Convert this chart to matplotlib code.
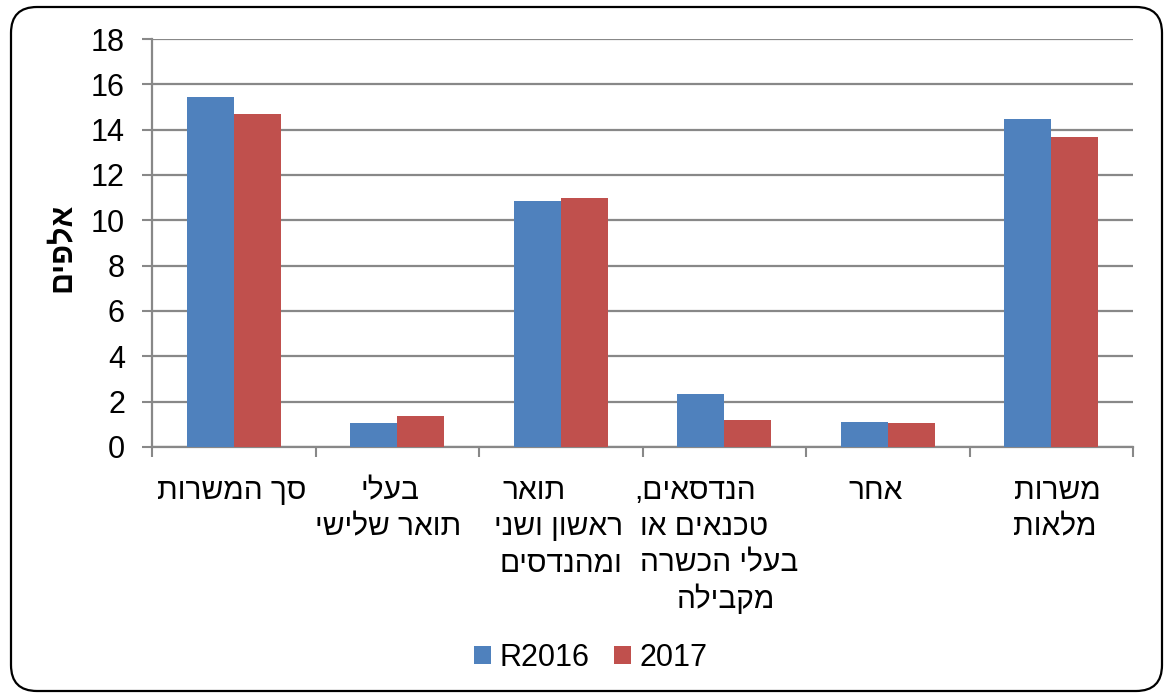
import matplotlib
matplotlib.use("Agg")
import matplotlib.pyplot as plt
import numpy as np
from matplotlib.patches import FancyBboxPatch, Patch
from matplotlib.transforms import IdentityTransform

plt.rcParams['font.family'] = ['Liberation Sans', 'DejaVu Sans']

# ---- data ----
categories = [
    ["סך המשרות"],
    ["בעלי", "תואר שלישי"],
    ["תואר", "ראשון ושני", "ומהנדסים"],
    ["הנדסאים,", "טכנאים או", "בעלי הכשרה", "מקבילה"],
    ["אחר"],
    ["משרות", "מלאות"],
]
series_names = ["R2016", "2017"]
values_2016 = [15.45, 1.07, 10.87, 2.32, 1.10, 14.45]
values_2017 = [14.70, 1.38, 11.00, 1.19, 1.05, 13.67]
y_ticks = [0, 2, 4, 6, 8, 10, 12, 14, 16, 18]
y_label = "אלפים"

# per-line horizontal nudges of category labels (pixels)
label_dx = [[-2], [-7, -9], [-27, -2, 0], [-29, -20, -5, 2], [-12], [6, 4]]

BLUE = "#4F81BD"
RED = "#C0504D"
GRID = "#888888"


def vis(s):
    """Convert logical-order Hebrew text to visual order for LTR rendering."""
    return s[::-1]


W, H = 1167, 695
fig = plt.figure(figsize=(W / 100, H / 100), dpi=100)
ax = fig.add_axes([152 / W, 1 - 447 / H, (1133 - 152) / W, (447 - 39) / H])

x = np.arange(len(categories))
bw = 0.286
ax.bar(x - bw / 2, values_2016, width=bw, color=BLUE, zorder=3)
ax.bar(x + bw / 2, values_2017, width=bw, color=RED, zorder=3)

ax.set_xlim(-0.5, len(categories) - 0.5)
ax.set_ylim(0, 18)
ax.set_yticks(y_ticks)
ax.set_yticklabels([str(v) for v in y_ticks], fontsize=22)
ax.yaxis.grid(True, color=GRID, linewidth=1.6, zorder=0)
ax.set_axisbelow(True)

ax.set_xticks(np.arange(len(categories) + 1) - 0.5)
ax.set_xticklabels([])
ax.tick_params(axis='x', length=7, width=1.5, color=GRID, direction='out')
ax.tick_params(axis='y', length=7, width=1.5, color=GRID, direction='out', pad=12.5)

for s in ['top', 'right']:
    ax.spines[s].set_visible(False)
for s in ['left', 'bottom']:
    ax.spines[s].set_color(GRID)
    ax.spines[s].set_linewidth(1.6)

# category labels (multi-line Hebrew)
px2pt = 0.72
for i, lines in enumerate(categories):
    for j, line in enumerate(lines):
        dy = 52 + j * 36.3
        ax.annotate(vis(line), xy=(i, 0), xycoords=('data', 'axes fraction'),
                    xytext=(label_dx[i][j] * px2pt, -dy * px2pt),
                    textcoords='offset points', ha='center', va='baseline',
                    fontsize=21.5, annotation_clip=False)

# y-axis label
fig.text(63 / W, 1 - 247 / H, vis(y_label), rotation=90, ha='center', va='center',
         fontsize=22, fontweight='bold')

# legend
handles = [Patch(facecolor=BLUE), Patch(facecolor=RED)]
fig.legend(handles, series_names, loc='center', bbox_to_anchor=(591 / W, 1 - 658 / H),
           ncol=2, frameon=False, fontsize=22, handlelength=0.55, handleheight=0.55,
           handletextpad=0.28, columnspacing=0.8, borderpad=0)

# rounded outer border
border = FancyBboxPatch((11, 4), 1151, 684, boxstyle="round,pad=0,rounding_size=26",
                        transform=IdentityTransform(), facecolor='none',
                        edgecolor='black', linewidth=1.6)
fig.patches.append(border)

fig.savefig("out.png", dpi=100)
